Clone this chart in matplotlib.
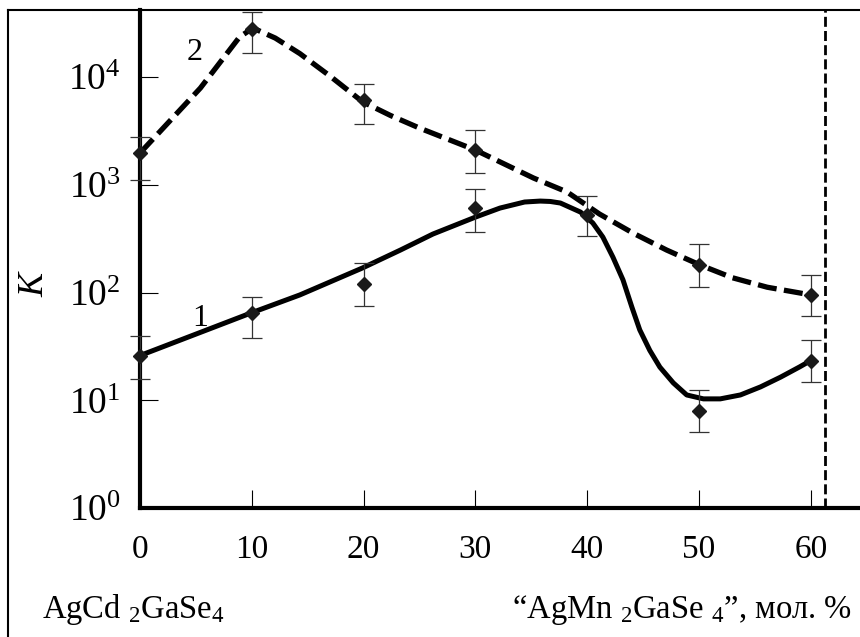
import matplotlib.pyplot as plt
from matplotlib.lines import Line2D

plt.rcParams['font.family'] = ['Liberation Serif', 'DejaVu Serif']
plt.rcParams['mathtext.fontset'] = 'custom'
plt.rcParams['mathtext.rm'] = 'Liberation Serif'
plt.rcParams['mathtext.it'] = 'Liberation Serif:italic'
plt.rcParams['mathtext.default'] = 'regular'

# measured points (composition, mol. %)
x_pts = [0, 10, 20, 30, 40, 50, 60]
k1 = [26, 64, 120, 608, 524, 7.9, 23]
k1_lo = [15.7, 37.8, 75, 366, 335, 5.1, 14.8]
k1_hi = [39.5, 91, 188, 913, 787, 12.4, 36]

x2_pts = [0, 10, 20, 30, 50, 60]
k2 = [1970, 27900, 6120, 2100, 180, 95]
k2_lo = [1107, 16700, 3660, 1285, 113, 61]
k2_hi = [2770, 40100, 8600, 3220, 283, 145]

# hand-drawn curves
curve1_x = [0, 10, 14.3, 19.9, 23.3, 26.2, 30.0, 32.2, 34.4, 35.8, 36.7,
            37.6, 39.4, 40.5, 41.4, 42.3, 43.2, 44.0, 44.7, 45.6, 46.5,
            47.7, 48.9, 50.4, 51.9, 53.7, 55.5, 57.3, 59.0, 60.1]
curve1_y = [26, 65, 95, 169, 248, 349, 501, 608, 692, 706, 700,
            677, 558, 442, 327, 213, 131, 73, 45, 29, 20.3,
            14.5, 11.2, 10.3, 10.3, 11.2, 13.3, 16.4, 20.4, 23.7]

curve2_x = [0, 5.4, 8.9, 10.1, 12.1, 14.3, 17.0, 19.9, 22.4, 25.0, 30.0,
            35.2, 38.2, 41.1, 44.1, 47.1, 50.1, 53.0, 56.1, 60.0]
curve2_y = [1970, 7900, 23500, 28500, 23000, 16500, 10200, 5900, 4400, 3360, 2100,
            1155, 857, 535, 356, 248, 180, 137, 112, 95]

boundary_x = 61.3

fig = plt.figure(figsize=(8.6, 6.37), dpi=100)
ax = fig.add_axes([140 / 860, 129 / 637, 720 / 860, 498 / 637])
ax.set_yscale('log')
ax.set_xlim(0, 64.4)
ax.set_ylim(1, 41900)

# curves
ax.plot(curve1_x, curve1_y, color='black', lw=3.6, solid_joinstyle='round',
        solid_capstyle='round', zorder=3)
ax.plot(curve2_x, curve2_y, color='black', lw=3.8, dashes=(3.6, 1.4),
        dash_joinstyle='round', zorder=3)

# data with error bars
for xs, ys, lo, hi in [(x_pts, k1, k1_lo, k1_hi), (x2_pts, k2, k2_lo, k2_hi)]:
    yerr = [[y - l for y, l in zip(ys, lo)], [h - y for y, h in zip(ys, hi)]]
    ax.errorbar(xs, ys, yerr=yerr, fmt='none', ecolor='#333333', elinewidth=0.9,
                capsize=7.5, capthick=0.9, zorder=4, clip_on=False)
    ax.plot(xs, ys, 'D', color='#1a1a1a', markersize=7.5, zorder=5, clip_on=False)

# vertical boundary
ax.axvline(boundary_x, color='black', lw=2, dashes=(3.6, 1.5), zorder=2)

# curve numbers
ax.text(5.4, 58, '1', fontsize=23, ha='center', va='center')
ax.text(4.9, 17000, '2', fontsize=23, ha='center', va='center')

# axes style
for side in ['top', 'right']:
    ax.spines[side].set_visible(False)
for side in ['left', 'bottom']:
    ax.spines[side].set_linewidth(3)
ax.set_xticks([0, 10, 20, 30, 40, 50, 60])
ax.set_yticks([1, 10, 100, 1000, 10000])
ax.set_yticklabels([r'$10^{0}$', r'$10^{1}$', r'$10^{2}$', r'$10^{3}$', r'$10^{4}$'])
ax.minorticks_off()
ax.tick_params(axis='both', direction='in', length=13, width=0.8)
ax.tick_params(axis='x', pad=19, labelsize=24)
ax.tick_params(axis='y', pad=14, labelsize=27)

fig.text(35 / 860, 1 - 285 / 637, 'K', fontsize=26, style='italic',
         rotation=90, ha='center', va='center')
fig.text(42 / 860, 1 - 618 / 637, r'AgCd $_{2}$GaSe$_{4}$', fontsize=23.5,
         ha='left', va='baseline')
fig.text(852 / 860, 1 - 618 / 637, '“AgMn $_{2}$GaSe $_{4}$”, мол. %',
         fontsize=23.5, ha='right', va='baseline')

# outer frame (left and top edges)
fig.add_artist(Line2D([8 / 860, 8 / 860], [0, 1 - 10 / 637], color='black', lw=1.5))
fig.add_artist(Line2D([8 / 860, 1], [1 - 10 / 637, 1 - 10 / 637], color='black', lw=1.5))

fig.savefig('out.png', dpi=100)
